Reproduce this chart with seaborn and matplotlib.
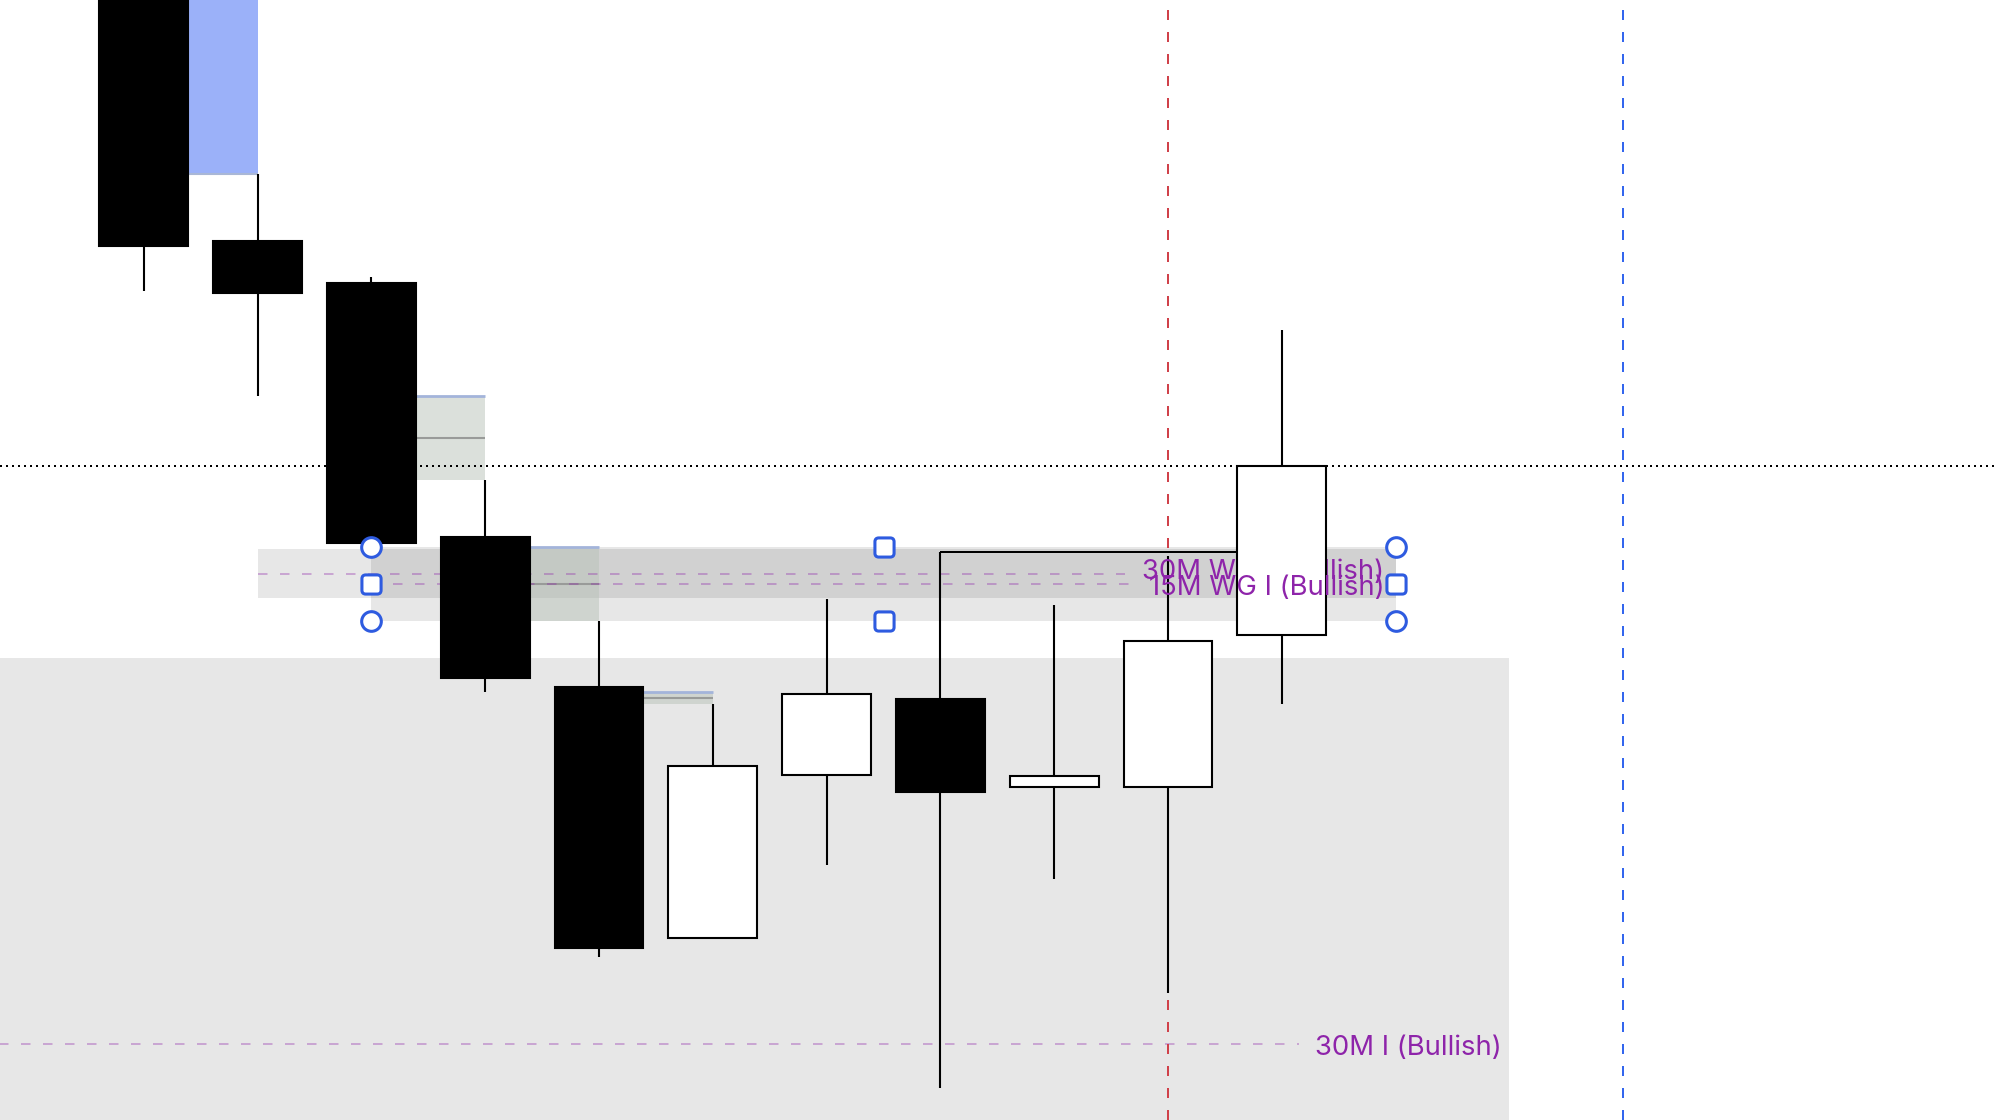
import numpy as np
import pandas as pd
import matplotlib.pyplot as plt
from matplotlib.path import Path
import seaborn as sns

# candles (index 0..10), prices
opens = [5300.0, 5232.75, 5224.5, 5174.5, 5145.0, 5095.75, 5127.75, 5142.75, 5125.5, 5125.5, 5155.25]
highs = [5305.0, 5245.75, 5225.5, 5185.75, 5158.0, 5141.75, 5162.25, 5171.5, 5161.25, 5170.75, 5215.25]
lows = [5222.75, 5202.25, 5172.75, 5144.0, 5092.0, 5095.75, 5110.0, 5066.25, 5107.25, 5085.0, 5141.75]
closes = [5231.75, 5222.5, 5173.25, 5146.75, 5093.75, 5129.5, 5143.75, 5124.5, 5127.5, 5154.0, 5188.5]

# fair value gaps: (start bar, end bar, top, bottom)
fvg_start = [2.39, 3.39, 4.39]
fvg_end = [3.0, 4.0, 5.0]
fvg_top = [5202.25, 5172.5, 5144.0]
fvg_bottom = [5185.75, 5158.0, 5141.75]

# bearish imbalance box (blue)
blue_box = (0.39, 1.0, 5245.75, 5300.0)

# zones
zone_a = (1.0, 11.0, 5162.5, 5172.25)
zone_b = (2.0, 11.0, 5158.0, 5172.5)
discount_zone = (-2.0, 12.0, 5040.0, 5150.75)

# levels
level_names = ["30M WG I (Bullish)", "15M WG I (Bullish)", "30M I (Bullish)"]
level_prices = [5167.25, 5165.25, 5075.0]
level_start = [1.0, 2.0, -2.0]
level_end = [8.62, 8.66, 10.15]
level_label_x = [10.9, 10.9, 10.29]
level_label_nudge = [0.3, -0.8, -0.8]
level_label_z = [4.5, 6, 6]

last_price = closes[-1]
sweep_level = highs[7]
red_vline = 9.0
blue_vline = 13.0

sns.set_theme(style="white")
plt.rcParams["font.family"] = ["Inter", "DejaVu Sans"]

fig = plt.figure(figsize=(19.96, 11.2), dpi=100)
ax = fig.add_axes([0, 0, 1, 1])

purple = "#8E24AA"

# background zones
x0, x1, b, t = discount_zone
ax.fill_between([x0, x1], b, t, color="black", alpha=0.095, lw=0, zorder=0)
for z in (zone_a, zone_b):
    ax.fill_between([z[0], z[1]], z[2], z[3], color="black", alpha=0.095, lw=0, zorder=1)

# blue box
ax.fill_between([blue_box[0], blue_box[1]], blue_box[2], blue_box[3], color="#9BB1F9", lw=0, zorder=2)
ax.hlines(blue_box[2], blue_box[0], blue_box[1], color="#A9B7D6", lw=1.5, zorder=2)

# fvgs
for s, e, tp, bt in zip(fvg_start, fvg_end, fvg_top, fvg_bottom):
    ax.fill_between([s, e], bt, tp, color="#B9C3B9", alpha=0.5, lw=0, zorder=2)
    ax.hlines(tp, s, e, color="#A3B4DA", lw=2, zorder=2)
    ax.hlines((tp + bt) / 2, s, e, color="#999B99", lw=1.5, zorder=2)

# level lines and labels
for name, p, s, e, lx, dy, zz in zip(level_names, level_prices, level_start, level_end,
                                     level_label_x, level_label_nudge, level_label_z):
    ax.hlines(p, s, e, color=purple, alpha=0.4, lw=1.2, linestyles=(0, (5.7, 7.5)), zorder=3)
    ha = "left" if lx < 10.5 else "right"
    ax.text(lx, p + dy, name, color=purple, fontsize=19.8, ha=ha, va="center", zorder=zz)

# last price dotted line and session lines
ax.axhline(last_price, color="black", lw=1.44, ls=(0, (1, 2)), zorder=3)
ax.axvline(red_vline, color="#D0414A", lw=1.44, ls=(0, (5, 6)), zorder=3)
ax.axvline(blue_vline, color="#3366EE", lw=1.44, ls=(0, (5, 6)), zorder=3)

# liquidity line from bar 7 high
ax.hlines(sweep_level, 7, 10, color="black", lw=1.44, zorder=4)

# candles
df = pd.DataFrame({"o": opens, "h": highs, "l": lows, "c": closes})
df["i"] = np.arange(len(df))
w = 0.78
for _, r in df.iterrows():
    ax.vlines(r.i, r.l, r.h, color="black", lw=1.5, zorder=4)
    bull = r.c >= r.o
    ax.bar(r.i, abs(r.c - r.o), bottom=min(r.o, r.c), width=w,
           color="white" if bull else "black", edgecolor="black", linewidth=1.5, zorder=5)

# rounded square marker for handles
rr = 0.4
verts = [(-1 + rr, -1), (1 - rr, -1), (1, -1), (1, -1 + rr), (1, 1 - rr), (1, 1), (1 - rr, 1),
         (-1 + rr, 1), (-1, 1), (-1, 1 - rr), (-1, -1 + rr), (-1, -1), (-1 + rr, -1), (-1 + rr, -1)]
codes = [Path.MOVETO, Path.LINETO, Path.CURVE3, Path.CURVE3, Path.LINETO, Path.CURVE3, Path.CURVE3,
         Path.LINETO, Path.CURVE3, Path.CURVE3, Path.LINETO, Path.CURVE3, Path.CURVE3, Path.CLOSEPOLY]
rsquare = Path(verts, codes)

# selection handles of zone b
mid_x = (zone_b[0] + zone_b[1]) / 2
mid_y = (zone_b[2] + zone_b[3]) / 2
circles = pd.DataFrame({"x": [zone_b[0], zone_b[0], zone_b[1], zone_b[1]],
                        "y": [zone_b[3], zone_b[2], zone_b[3], zone_b[2]]})
squares = pd.DataFrame({"x": [zone_b[0], zone_b[1], mid_x, mid_x],
                        "y": [mid_y, mid_y, zone_b[3], zone_b[2]]})
sns.scatterplot(data=circles, x="x", y="y", marker="o", s=200, color="white",
                edgecolor="#2E5BE0", linewidth=2.2, ax=ax, zorder=7, legend=False)
sns.scatterplot(data=squares, x="x", y="y", marker=rsquare, s=190, color="white",
                edgecolor="#2E5BE0", linewidth=2.2, ax=ax, zorder=7, legend=False)

ax.set_xlim(-1.264, 16.275)
ax.set_ylim(5060, 5280)
ax.axis("off")

fig.savefig("out.png", dpi=100)
